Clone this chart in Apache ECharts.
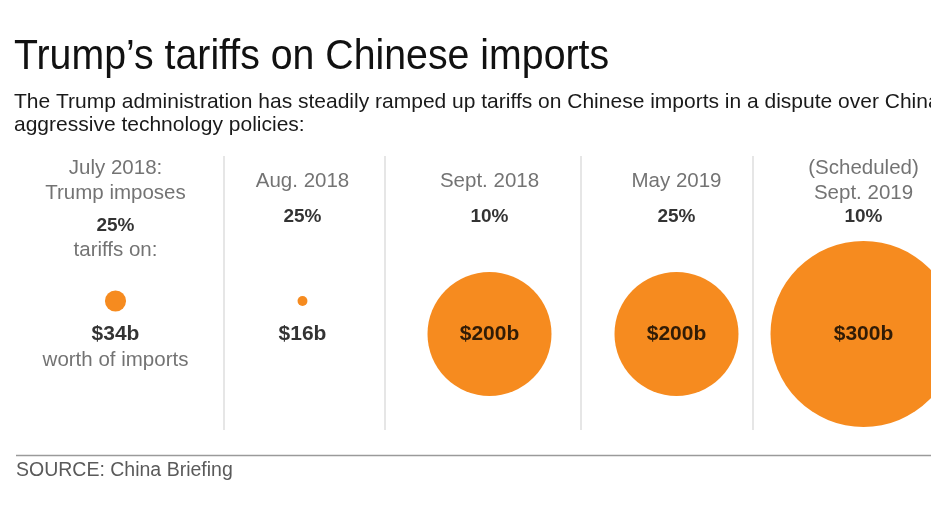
<!DOCTYPE html>
<html>
<head>
<meta charset="utf-8">
<title>Trump's tariffs on Chinese imports</title>
<script src="https://cdn.jsdelivr.net/npm/echarts@6/dist/echarts.min.js"></script>
<style>
  html, body { margin: 0; padding: 0; background: #fff; }
  #chart { width: 931px; height: 523px; }
</style>
</head>
<body>
<div id="chart"></div>
<script>
const periods = ['July 2018:\nTrump imposes', 'Aug. 2018', 'Sept. 2018', 'May 2019', '(Scheduled)\nSept. 2019'];
const tariffRates = ['25%', '25%', '10%', '25%', '10%'];
const importsBn = [34, 16, 200, 200, 300];
const rateNotes = ['tariffs on:', '', '', '', ''];
const valueNotes = ['worth of imports', '', '', '', ''];

// layout (pixel rows, y axis runs in page pixels)
const GRID_LEFT = 22;
const COL_W = 187;        // last column runs off the right edge, as in the original
const HEADER_Y = 181;
const RATE_Y = 217;
const RATE_Y_NOTED = 226;
const AMOUNT_Y = 334;
const PX_PER_BN = 0.62;   // bubble diameter per $1b
const SMALL_LIFT = 33;    // small bubbles sit above their label

const GRAY = '#505050';
const ORANGE = '#F68B1F';
const FONT = '"Liberation Sans", Arial, sans-serif';

const chart = echarts.init(document.getElementById('chart'));

function textSeries(name, items, style) {
  return {
    name,
    type: 'scatter',
    symbolSize: 1,
    itemStyle: { color: 'transparent' },
    silent: true,
    z: 5,
    data: items.map(([i, y, text]) => ({ value: [i, y], text })),
    label: Object.assign({
      show: true,
      position: 'inside',
      formatter: p => p.data.text,
      fontFamily: FONT
    }, style)
  };
}

const headerItems = periods.map((p, i) => [i, HEADER_Y, p]);
const rateItems = tariffRates.map((r, i) => [i, rateNotes[i] ? RATE_Y_NOTED : RATE_Y, r]);
const rateNoteItems = rateNotes.map((n, i) => [i, RATE_Y_NOTED + 24, n]).filter(d => d[2]);
const amountItems = importsBn.map((v, i) => [i, AMOUNT_Y, '$' + v + 'b']);
const valueNoteItems = valueNotes.map((n, i) => [i, AMOUNT_Y + 26, n]).filter(d => d[2]);

const separators = [224, 385, 581, 753].map(x => ({
  type: 'line',
  shape: { x1: x, y1: 156, x2: x, y2: 430 },
  style: { stroke: '#dedede', lineWidth: 1.5 }
}));

chart.setOption({
  backgroundColor: '#fff',
  animation: false,
  grid: { left: GRID_LEFT, right: 0, top: 0, bottom: 0 },
  xAxis: {
    type: 'value',
    min: -0.5,
    max: -0.5 + (931 - GRID_LEFT) / COL_W,
    show: false
  },
  yAxis: {
    type: 'value',
    min: 0,
    max: 523,
    inverse: true,
    show: false
  },
  graphic: [
    {
      type: 'text',
      left: 14,
      top: 36,
      scaleX: 0.935,
      style: {
        text: 'Trump\u2019s tariffs on Chinese imports',
        font: '42px ' + FONT,
        fill: '#111'
      }
    },
    {
      type: 'text',
      left: 14,
      top: 91,
      style: {
        text: 'The Trump administration has steadily ramped up tariffs on Chinese imports in a dispute over China\u2019s\naggressive technology policies:',
        font: '21px ' + FONT,
        lineHeight: 23,
        fill: '#1a1a1a'
      }
    },
    ...separators,
    {
      type: 'line',
      shape: { x1: 16, y1: 455.5, x2: 931, y2: 455.5 },
      style: { stroke: '#9a9a9a', lineWidth: 1.5 }
    },
    {
      type: 'text',
      left: 16,
      top: 461,
      style: {
        text: 'SOURCE: China Briefing',
        font: '19.5px ' + FONT,
        fill: '#5a5a5a'
      }
    }
  ],
  series: [
    {
      name: 'imports',
      type: 'scatter',
      data: importsBn.map((v, i) => [i, AMOUNT_Y, v]),
      symbolSize: d => d[2] * PX_PER_BN,
      symbolOffset: (d) => (d[2] * PX_PER_BN < 40 ? [0, -SMALL_LIFT] : [0, 0]),
      itemStyle: { color: ORANGE, opacity: 1 },
      clip: false,
      z: 2,
      silent: true
    },
    textSeries('periods', headerItems, { color: GRAY, fontSize: 20.5, lineHeight: 25.5 }),
    textSeries('rates', rateItems, { color: '#000', fontSize: 19, fontWeight: 'bold' }),
    textSeries('rateNotes', rateNoteItems, { color: GRAY, fontSize: 20.5 }),
    textSeries('amounts', amountItems, { color: '#000', fontSize: 21, fontWeight: 'bold' }),
    textSeries('valueNotes', valueNoteItems, { color: GRAY, fontSize: 20.5 })
  ]
});
</script>
</body>
</html>
